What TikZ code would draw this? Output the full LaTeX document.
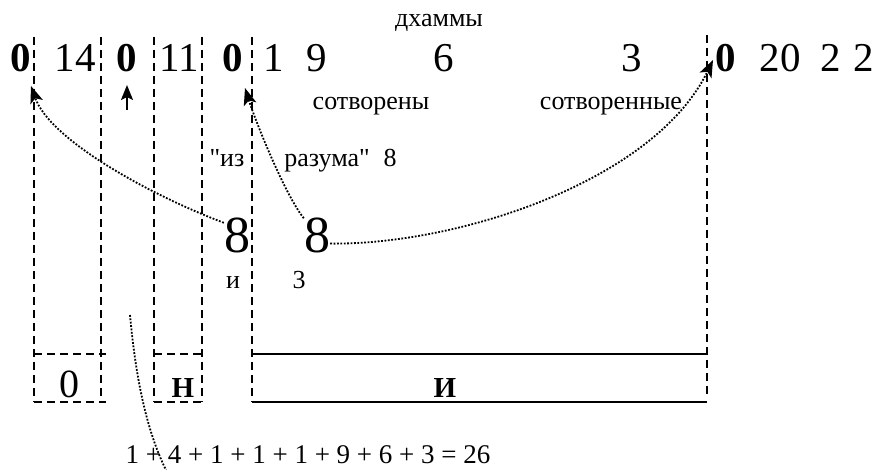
\documentclass[tikz,border=0pt]{standalone}
\usepackage{fontspec}
\setmainfont{Liberation Serif}
\usetikzlibrary{arrows.meta,positioning}
\newcommand{\fsz}[1]{\fontsize{#1}{#1}\selectfont}

\begin{document}
\begin{tikzpicture}[x=1pt,y=-1pt,
  sep/.style={line width=2pt,dash pattern=on 8pt off 5pt},
  dots/.style={line width=1.8pt,dash pattern=on 1.8pt off 1.6pt},
  lnk/.style={dots,-{Stealth[length=17pt,width=13pt,inset=4pt]}},
  txt/.style={inner sep=0pt,anchor=base}]
\useasboundingbox (0,0) rectangle (875,470);
\foreach \xx in {34,101,154,202,252}{
  \draw[sep] (\xx,37) -- (\xx,402);
}
\draw[sep] (707,35) -- (707,395);
\draw[sep] (34,354) -- (106,354) (34,402) -- (106,402);
\draw[sep] (154,354) -- (202,354) (154,402) -- (202,402);
\draw[line width=2pt] (252,354) -- (707,354) (252,402) -- (707,402);
\foreach \nm/\xx/\txt in {z1/21/{\textbf{0}},n1/75/14,z2/127/{\textbf{0}},n2/179/11,
    z3/233/{\textbf{0}},n3/274/1,n4/317/9,n5/444/6,n6/632/3,
    z4/726/{\textbf{0}},n7/780/20,n8/831/2,n9/864/2}{
  \node[txt,font=\fsz{41}] (\nm) at (\xx,72) {\txt};
}
\node[txt,font=\fsz{26}] (dh) at (439,27) {дхаммы};
\node[txt,font=\fsz{26}] (sv1) at (371,110) {сотворены};
\node[txt,font=\fsz{26}] (sv2) at (611,110) {сотворенные};
\node[txt,font=\fsz{26}] (iz) at (227,167) {\textquotedbl из};
\node[txt,font=\fsz{26}] (rz) at (327,167) {разума\textquotedbl};
\node[txt,font=\fsz{26}] (r8) at (390,167) {8};
\node[txt,font=\fsz{52}] (e1) at (237,253) {8};
\node[txt,font=\fsz{52}] (e2) at (317,253) {8};
\node[txt,font=\fsz{26}] (i1) at (233,288) {и};
\node[txt,font=\fsz{26}] (k3) at (299,288) {3};
\node[txt,font=\fsz{40}] (b0) at (69,397) {0};
\node[txt,font=\fsz{29}\bfseries] (bn) at (183,397) {Н};
\node[txt,font=\fsz{29}\bfseries] (bi) at (445,397) {И};
\node[txt,font=\fsz{27}] (sum) at (308,463) {1 + 4 + 1 + 1 + 1 + 9 + 6 + 3 = 26};
\coordinate (t1) at (31,86);
\coordinate (t2) at (245,88);
\coordinate (t3) at (713,60);
\draw[lnk] (e1.135) .. controls (150,195) and (50,140) .. (t1);
\draw[lnk] (e2.north west) .. controls (285,195) and (255,120) .. (t2);
\draw[lnk] (e2.-30) .. controls (460,245) and (655,180) .. (t3);
\coordinate (u0) at (127,110);
\coordinate (u1) at (127,85);
\draw[line width=2pt,-{Stealth[length=15pt,width=12pt,inset=3pt]}] (u0) -- (u1);
\coordinate (c0) at (130,315);
\coordinate (c1) at (168,474);
\draw[dots] (c0) .. controls (135,370) and (145,430) .. (c1);
\end{tikzpicture}
\end{document}
